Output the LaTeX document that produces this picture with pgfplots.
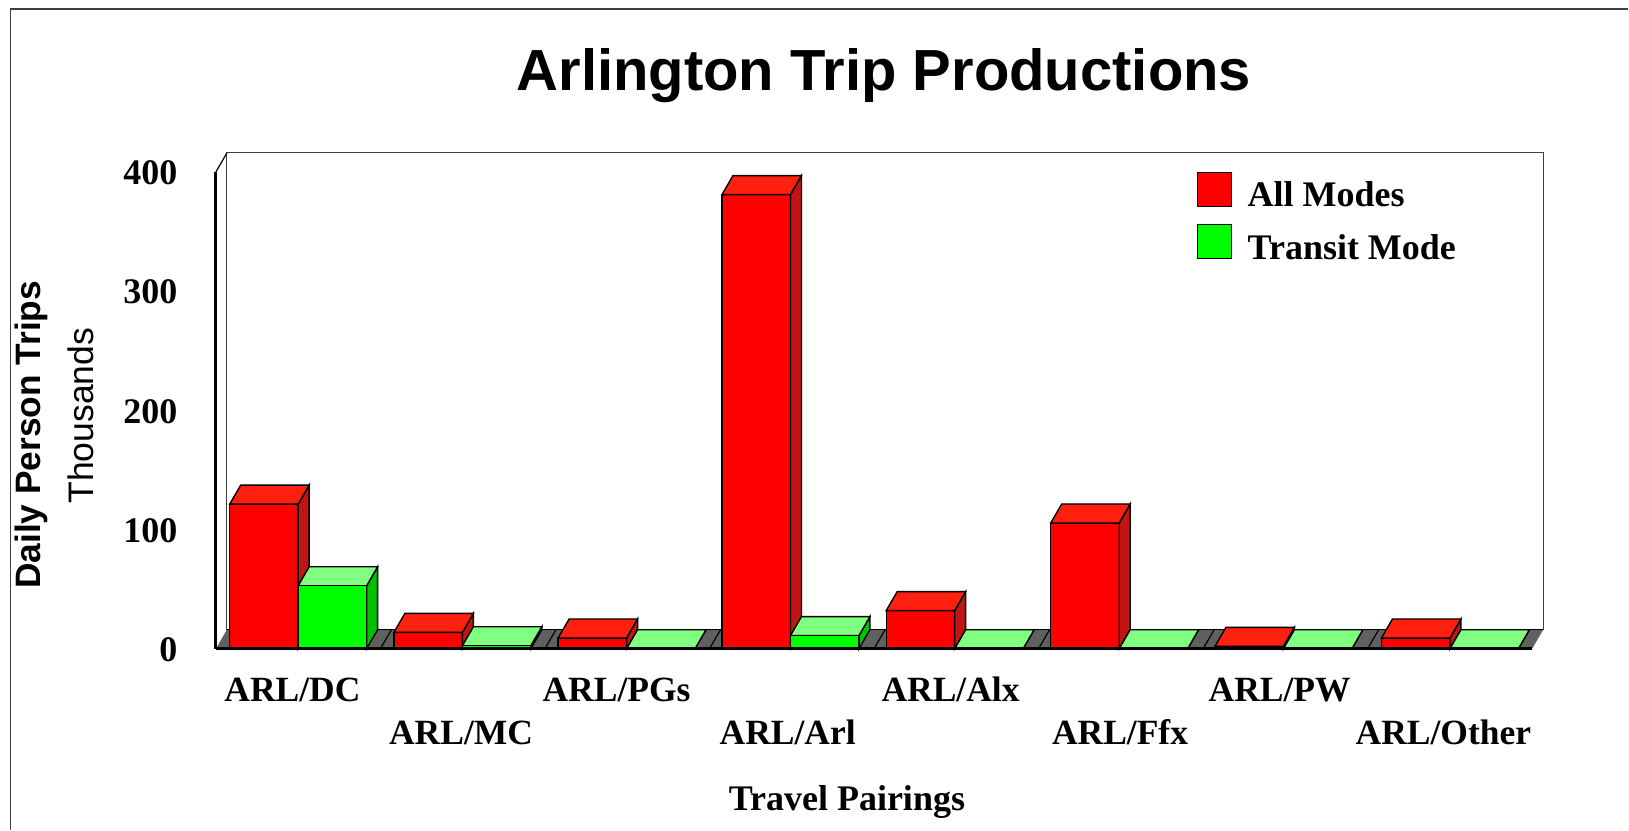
\documentclass[border=0pt]{standalone}
\usepackage{pgfplots}
\usepackage{pgfplotstable}
\pgfplotsset{compat=1.18}
\usepackage{fontspec}
\setmainfont{Liberation Serif}
\newfontfamily\arial{Liberation Sans}

\definecolor{allfront}{HTML}{FF0000}
\definecolor{alltop}{HTML}{FF2010}
\definecolor{allside}{HTML}{C01515}
\definecolor{trfront}{HTML}{00FF00}
\definecolor{trtop}{HTML}{80FF80}
\definecolor{trside}{HTML}{00C000}
\definecolor{floorgray}{HTML}{606060}
\definecolor{wallgray}{HTML}{404040}

\newcommand{\lbl}{\fontsize{35.5}{40}\selectfont}
\newcommand{\lblb}{\fontsize{36}{40}\selectfont}

% daily person trips, thousands; cat = group centre as drawn
\pgfplotstableread{
cat all transit
0 121.3 52.8
0.998 13.7 2.5
1.996 9 0
2.992 381 11
3.990 32 0
4.990 105.5 0
5.988 2 0
7.000 9 0
}\trips

% depth of the 3D look in axis units
\def\dx{0.0668}
\def\dy{15.93}
\def\bw{0.416}

% top and side faces of one bar: column, group, left edge offset, top colour, side colour
\newcommand{\barfaces}[5]{%
  \pgfplotstablegetelem{#2}{#1}\of\trips
  \let\val\pgfplotsretval
  \pgfplotstablegetelem{#2}{cat}\of\trips
  \let\ctr\pgfplotsretval
  \pgfmathsetmacro\xa{\ctr+#3}%
  \pgfmathsetmacro\xb{\ctr+#3+\bw}%
  \pgfmathsetmacro\xc{\xa+\dx}%
  \pgfmathsetmacro\xd{\xb+\dx}%
  \pgfmathsetmacro\yt{\val+\dy}%
  \edef\tmp{\noexpand\addplot[forget plot,fill=#5,draw=black,line width=1.4pt] coordinates {(\xb,0) (\xd,\dy) (\xd,\yt) (\xb,\val)} -- cycle;
    \noexpand\addplot[forget plot,fill=#4,draw=black,line width=1.4pt] coordinates {(\xa,\val) (\xb,\val) (\xd,\yt) (\xc,\yt)} -- cycle;}%
  \tmp
}

\begin{document}
\begin{tikzpicture}
\begin{axis}[
  scale only axis,
  width=1317pt, height=477pt,
  xmin=-0.5, xmax=7.5, ymin=0, ymax=400,
  clip=false,
  axis on top,
  axis x line=bottom, axis y line=left,
  axis line style={black, line width=3pt, -},
  tick style={draw=none},
  ytick={0,100,200,300,400},
  yticklabel style={font=\lblb\bfseries, /pgf/number format/assume math mode=true, anchor=east, xshift=-33pt, yshift=-1pt},
  xtick={-0.035,0.99,1.935,2.975,3.965,4.995,5.965,6.96},
  xticklabels={ARL/DC,\raisebox{-43pt}{ARL/MC},ARL/PGs,\raisebox{-43pt}{ARL/Arl},ARL/Alx,\raisebox{-43pt}{ARL/Ffx},ARL/PW,\raisebox{-43pt}{ARL/Other}},
  xticklabel style={font=\lbl\bfseries, anchor=base, yshift=-51pt},
  xlabel={Travel Pairings},
  xlabel style={font=\lblb\bfseries, at={(axis cs:3.335,0)}, anchor=base, yshift=-162pt},
  ylabel={Daily Person Trips},
  ylabel style={font=\arial\fontsize{35.3}{40}\selectfont\bfseries, at={(axis cs:-0.5,0)}, anchor=center, xshift=214pt, yshift=185pt},
  title={Arlington Trip Productions},
  title style={font=\arial\fontsize{58}{64}\selectfont\bfseries, at={(axis cs:3.56,400)}, anchor=base, yshift=75pt},
  legend style={at={(axis cs:5.46,400.4)}, anchor=north west, draw=none, fill=none, font=\lblb\bfseries, row sep=14pt, /tikz/every odd column/.style={column sep=14pt}, inner sep=0pt},
  legend cell align=left,
  legend image code/.code={\draw[#1,line width=1pt] (0pt,-11pt) rectangle (34pt,23pt);},
]
  % back wall, floor and the group boundaries on it
  \addplot[forget plot, fill=floorgray, draw=none] coordinates {(-0.5,0) (7.5,0) (7.5668,15.93) (-0.4332,15.93)} -- cycle;
  \addplot[forget plot, wallgray, line width=1pt] coordinates {(-0.4332,15.93) (-0.4332,415.93) (7.5668,415.93) (7.5668,15.93)};
  \addplot[forget plot, black, line width=1.2pt] coordinates {(-0.4332,15.93) (7.5668,15.93)};
  \addplot[forget plot, black, line width=1.2pt] coordinates {(-0.5,400) (-0.4332,415.93)};
  \pgfplotsinvokeforeach{0.5,1.5,2.5,3.5,4.5,5.5,6.5}{
    \addplot[forget plot, black, line width=1.2pt] coordinates {(#1,0) (#1+0.0668,15.93)};
  }

  \addplot[ybar, bar width=\bw, bar shift=-0.208, fill=allfront, draw=black, line width=1.4pt] table[x=cat, y=all] {\trips};
  \addlegendentry{All Modes}
  \pgfplotsinvokeforeach{0,...,7}{\barfaces{all}{#1}{-\bw}{alltop}{allside}}

  \pgfplotsinvokeforeach{0,...,7}{\barfaces{transit}{#1}{0}{trtop}{trside}}
  \addplot[ybar, bar width=\bw, bar shift=0.208, fill=trfront, draw=black, line width=1.4pt] table[x=cat, y=transit] {\trips};
  \addlegendentry{Transit Mode}
\end{axis}
% outer frame and page size, 1pt = 1px of the reference, origin at the axis corner
\path (-216pt,-181pt) rectangle (1413pt,649pt);
\draw[wallgray, line width=1.5pt] (-205.5pt,-181pt) -- (-205.5pt,640pt) -- (1413pt,640pt);
\node[font=\arial\lbl, rotate=90, anchor=center] at (-135pt,233pt) {Thousands};
\end{tikzpicture}
\end{document}
